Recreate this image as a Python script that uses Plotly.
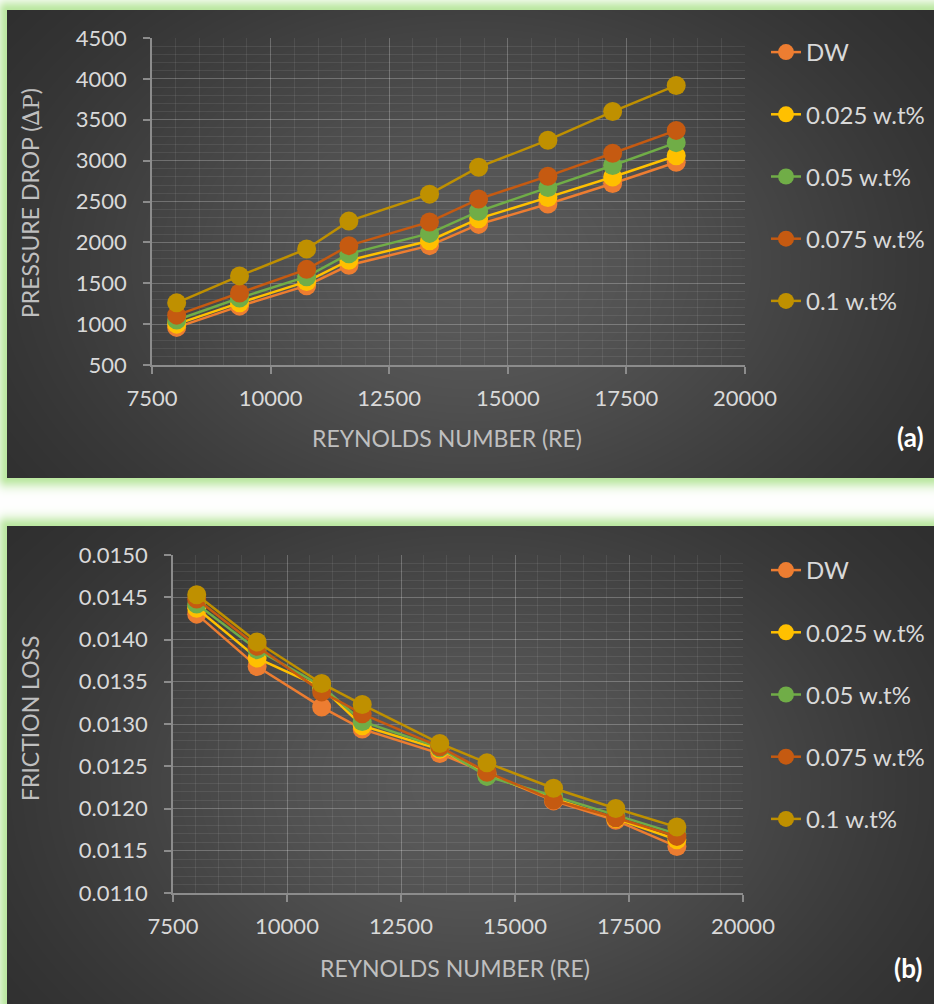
import base64
import struct
import zlib

import numpy as np
import plotly.graph_objects as go

# ---------------------------------------------------------------- data
reynolds = [8020, 9345, 10760, 11650, 13350, 14385, 15845, 17210, 18550]

series_names = ["DW", "0.025 w.t%", "0.05 w.t%", "0.075 w.t%", "0.1 w.t%"]
series_colors = ["#ED7D31", "#FFC000", "#70AD47", "#C55A11", "#BF9000"]

dp_dw = [960, 1220, 1470, 1720, 1960, 2220, 2470, 2720, 2980]
dp_025 = [1000, 1260, 1520, 1780, 2020, 2290, 2550, 2800, 3060]
dp_05 = [1050, 1320, 1580, 1860, 2110, 2380, 2670, 2940, 3220]
dp_075 = [1110, 1380, 1670, 1960, 2250, 2530, 2810, 3090, 3370]
dp_1 = [1260, 1590, 1920, 2260, 2590, 2920, 3250, 3600, 3920]

fl_dw = [0.01430, 0.01368, 0.01320, 0.01294, 0.01265, 0.01242, 0.01209, 0.01186, 0.01155]
fl_025 = [0.01437, 0.01378, 0.01343, 0.01298, 0.01270, 0.01240, 0.01212, 0.01188, 0.01163]
fl_05 = [0.01442, 0.01388, 0.01345, 0.01303, 0.01272, 0.01238, 0.01215, 0.01192, 0.01170]
fl_075 = [0.01448, 0.01392, 0.01338, 0.01312, 0.01273, 0.01243, 0.01210, 0.01189, 0.01167]
fl_1 = [0.01453, 0.01397, 0.01348, 0.01323, 0.01277, 0.01254, 0.01224, 0.01200, 0.01178]

pressure_drop = [dp_dw, dp_025, dp_05, dp_075, dp_1]
friction_loss = [fl_dw, fl_025, fl_05, fl_075, fl_1]

# ---------------------------------------------------------------- page geometry
W, H = 934, 1004
FONT = "Lato"
TICK_COLOR = "#d9d9d9"
TITLE_COLOR = "#bfbfbf"


def px(x):
    return x / W


def py(y):
    return 1 - y / H


# ---------------------------------------------------------------- background artwork
def make_background():
    yy, xx = np.mgrid[0:H, 0:W].astype(float)
    img = np.full((H, W, 3), 255.0)
    glow = np.array([188.0, 232.0, 162.0])
    panels = [(7, 10, W + 40, 477), (7, 526, W + 40, H + 40)]
    for x0, y0, x1, y1 in panels:
        dx = np.maximum(np.maximum(x0 - xx, xx - x1), 0)
        dy = np.maximum(np.maximum(y0 - yy, yy - y1), 0)
        d = np.hypot(dx, dy)
        inside = (xx >= x0) & (xx <= x1) & (yy >= y0) & (yy <= y1)
        a = np.exp(-((d / 10.0) ** 2))
        a[inside] = 0
        img = img * (1 - a[..., None]) + glow * a[..., None]
        cx = (x0 + W) / 2
        cy = (y0 + min(y1, H)) / 2 + 20
        shade = 40 + 50 * np.exp(-(((xx - cx) / 420) ** 2) - (((yy - cy) / 300) ** 2))
        for c in range(3):
            img[..., c][inside] = shade[inside]
    return np.clip(img, 0, 255).astype(np.uint8)


def png_data_uri(arr):
    h, w, _ = arr.shape
    raw = b"".join(b"\x00" + arr[i].tobytes() for i in range(h))

    def chunk(tag, data):
        body = tag + data
        return struct.pack(">I", len(data)) + body + struct.pack(">I", zlib.crc32(body) & 0xFFFFFFFF)

    png = (
        b"\x89PNG\r\n\x1a\n"
        + chunk(b"IHDR", struct.pack(">IIBBBBB", w, h, 8, 2, 0, 0, 0))
        + chunk(b"IDAT", zlib.compress(raw, 9))
        + chunk(b"IEND", b"")
    )
    return "data:image/png;base64," + base64.b64encode(png).decode()


# ---------------------------------------------------------------- traces
fig = go.Figure()

for name, color, ys in zip(series_names, series_colors, pressure_drop):
    fig.add_trace(go.Scatter(
        x=reynolds, y=ys, name=name, mode="lines+markers",
        line=dict(color=color, width=2.5),
        marker=dict(color=color, size=19),
        xaxis="x", yaxis="y", legend="legend", legendgroup="a" + name,
    ))

for name, color, ys in zip(series_names, series_colors, friction_loss):
    fig.add_trace(go.Scatter(
        x=reynolds, y=ys, name=name, mode="lines+markers",
        line=dict(color=color, width=2.5),
        marker=dict(color=color, size=19),
        xaxis="x2", yaxis="y2", legend="legend2", legendgroup="b" + name,
    ))

# ---------------------------------------------------------------- axes
grid_major = "rgba(255,255,255,0.24)"
grid_minor = "rgba(255,255,255,0.08)"
line_col = "#8c8c8c"


def axis_common(**kw):
    base = dict(
        showgrid=True, gridcolor=grid_major, gridwidth=1,
        showline=True, linecolor=line_col, linewidth=1.5,
        ticks="outside", ticklen=7, tickcolor=line_col, tickwidth=1.5,
        tickfont=dict(family=FONT, size=22, color=TICK_COLOR),
        zeroline=False, automargin=False,
    )
    base.update(kw)
    return base


xdom_a = [px(152), px(745)]
ydom_a = [py(365), py(38)]
xdom_b = [px(173), px(743)]
ydom_b = [py(893), py(555)]

layout_axes = dict(
    xaxis=axis_common(domain=xdom_a, range=[7500, 20000], tick0=7500, dtick=2500,
                      tickformat="d", anchor="y", ticklabelstandoff=6,
                      minor=dict(dtick=500, showgrid=True, gridcolor=grid_minor)),
    yaxis=axis_common(domain=ydom_a, range=[500, 4500], tick0=500, dtick=500,
                      anchor="x", ticklabelstandoff=12,
                      minor=dict(dtick=100, showgrid=True, gridcolor=grid_minor)),
    xaxis2=axis_common(domain=xdom_b, range=[7500, 20000], tick0=7500, dtick=2500,
                       tickformat="d", anchor="y2", ticklabelstandoff=6,
                       minor=dict(dtick=500, showgrid=True, gridcolor=grid_minor)),
    yaxis2=axis_common(domain=ydom_b, range=[0.011, 0.015], tick0=0.011, dtick=0.0005,
                       tickformat=".4f", anchor="x2", ticklabelstandoff=12,
                       minor=dict(dtick=0.0001, showgrid=True, gridcolor=grid_minor)),
)

legend_style = dict(
    font=dict(family=FONT, size=24, color=TICK_COLOR),
    bgcolor="rgba(0,0,0,0)", tracegroupgap=28,
    xanchor="left", yanchor="top", itemsizing="trace",
)

annotations = [
    dict(text="PRESSURE DROP (<span style='font-family:DejaVu Serif'>∆P</span>)",
         x=px(30), y=py(203), textangle=-90,
         font=dict(family=FONT, size=23, color=TITLE_COLOR)),
    dict(text="REYNOLDS NUMBER (RE)", x=px(447), y=py(438),
         font=dict(family=FONT, size=23, color=TITLE_COLOR)),
    dict(text="FRICTION LOSS", x=px(30), y=py(718), textangle=-90,
         font=dict(family=FONT, size=23, color=TITLE_COLOR)),
    dict(text="REYNOLDS NUMBER (RE)", x=px(455), y=py(968),
         font=dict(family=FONT, size=23, color=TITLE_COLOR)),
    dict(text="<b>(a)</b>", x=px(910), y=py(437),
         font=dict(family=FONT, size=26, color="#ffffff")),
    dict(text="<b>(b)</b>", x=px(908), y=py(968),
         font=dict(family=FONT, size=26, color="#ffffff")),
]
for a in annotations:
    a.update(xref="paper", yref="paper", showarrow=False, xanchor="center", yanchor="middle")

fig.update_layout(
    width=W, height=H,
    margin=dict(l=0, r=0, t=0, b=0, pad=0),
    paper_bgcolor="rgba(0,0,0,0)", plot_bgcolor="rgba(0,0,0,0)",
    font=dict(family=FONT, color=TICK_COLOR),
    showlegend=True,
    legend=dict(x=px(766), y=py(30), **legend_style),
    legend2=dict(x=px(766), y=py(548), **legend_style),
    annotations=annotations,
    images=[dict(source=png_data_uri(make_background()), xref="paper", yref="paper",
                 x=0, y=1, sizex=1, sizey=1, sizing="stretch",
                 xanchor="left", yanchor="top", layer="below")],
    **layout_axes,
)

fig.write_html("out.html")
